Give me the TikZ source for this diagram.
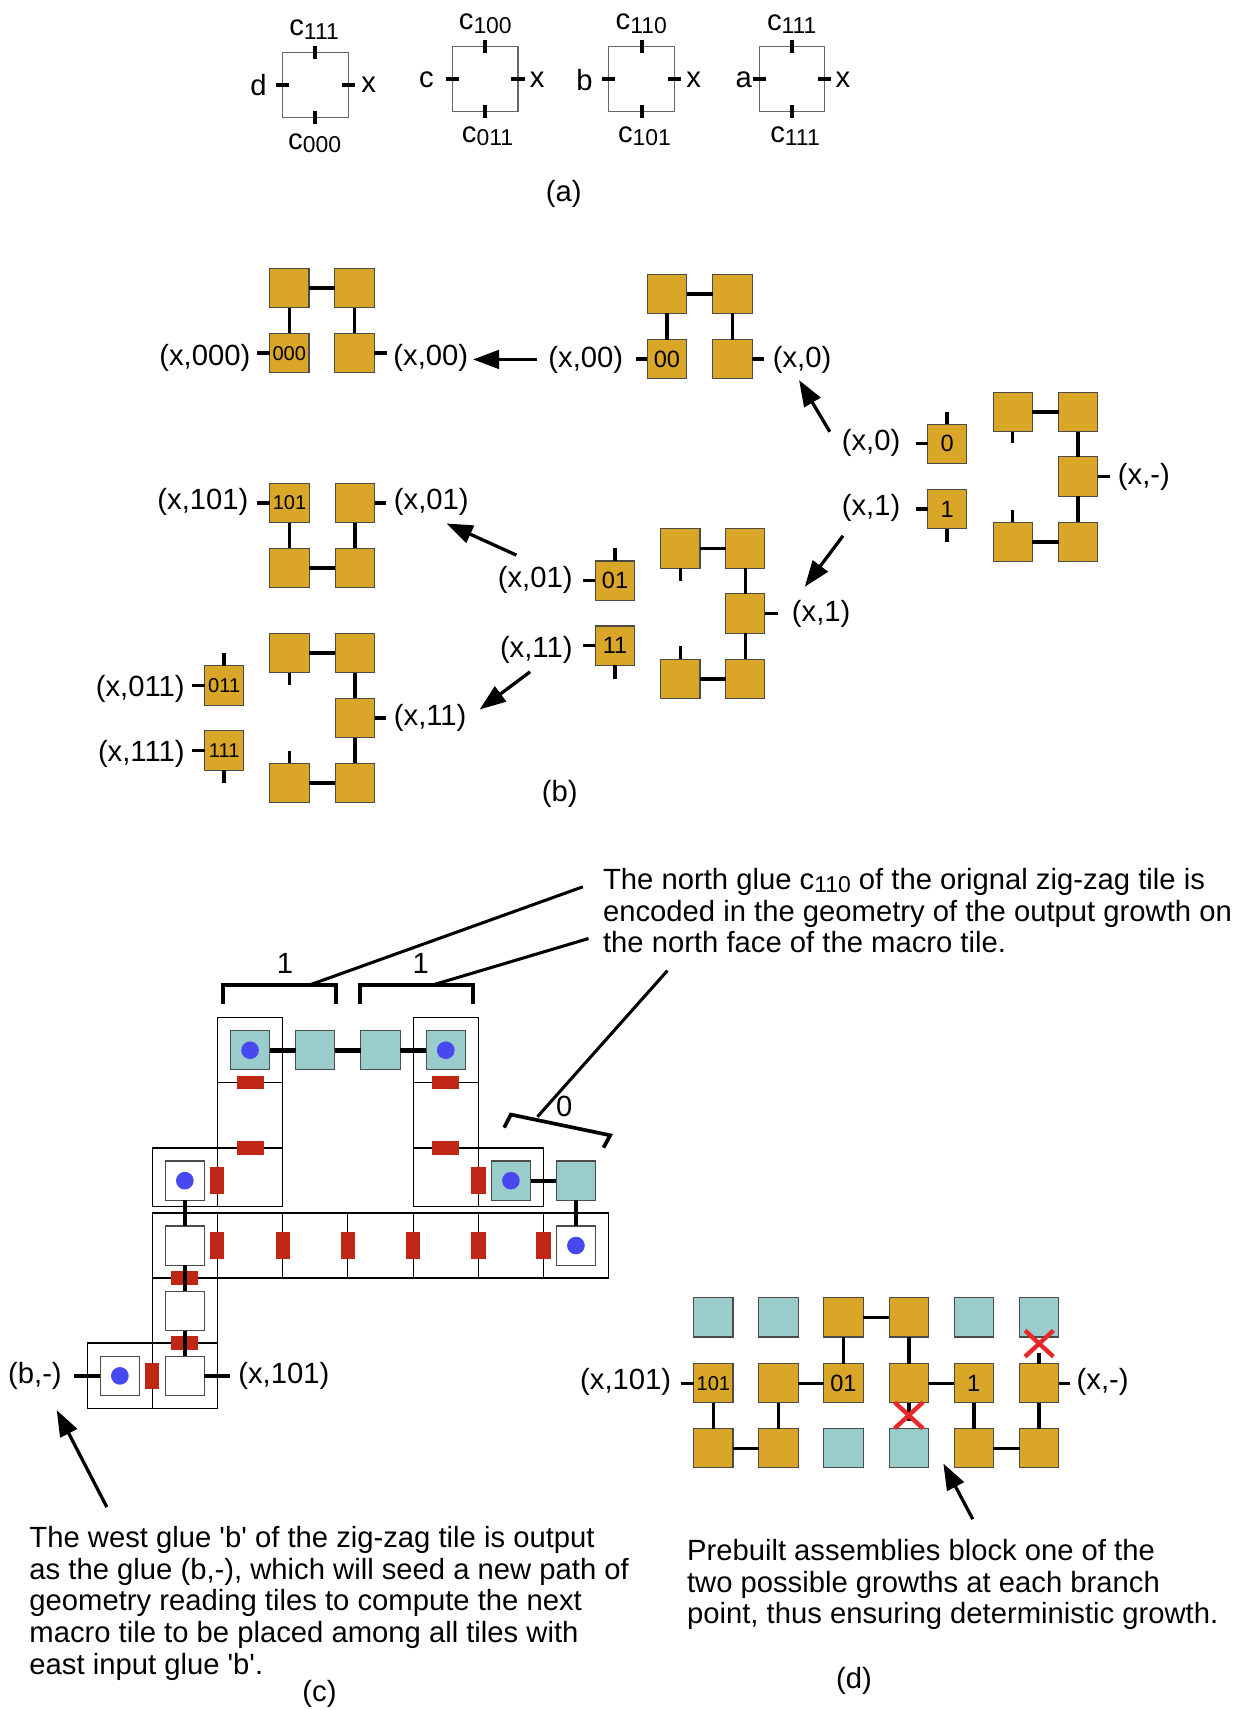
\documentclass[tikz,border=0pt]{standalone}
\usepackage{fontspec}
\setmainfont{Liberation Sans}
\usetikzlibrary{arrows.meta,calc}
\definecolor{goldc}{RGB}{218,166,40}
\definecolor{tealc}{RGB}{155,204,204}
\definecolor{redc}{RGB}{192,38,22}
\definecolor{bluec}{RGB}{72,72,240}
\definecolor{xred}{RGB}{232,40,40}
\definecolor{edgec}{RGB}{75,75,75}
\newcommand{\cs}[1]{c\raisebox{-1.6pt}{\fontsize{10.5}{11}\selectfont #1}}
\begin{document}
\begin{tikzpicture}[x=0.5pt,y=-0.5pt,
 lbl/.style={font=\fontsize{13.4}{15}\selectfont, inner sep=0pt, outer sep=0pt},
 goldt/.style={draw=edgec, line width=0.5pt, fill=goldc, minimum size=18pt, inner sep=0pt, outer sep=0pt, font=\fontsize{10.8}{11}\selectfont},
 goldsm/.style={goldt, font=\fontsize{9.2}{10}\selectfont},
 tealt/.style={goldt, fill=tealc},
 wtile/.style={draw=edgec, line width=0.6pt, fill=white, minimum size=18pt, inner sep=0pt, outer sep=0pt},
 ztile/.style={draw=black!60, line width=0.5pt, minimum width=30pt, minimum height=30pt, inner sep=0pt, outer sep=0pt},
 tickln/.style={line width=1.8pt},
 conn/.style={line width=1.6pt},
 cconn/.style={line width=1.8pt},
 cconnt/.style={line width=2.2pt},
 cellln/.style={line width=0.55pt},
 bracket/.style={line width=1.7pt},
 leader/.style={line width=1.4pt},
 arr/.style={line width=1.5pt, -{Triangle[length=12pt,width=8.5pt]}},
 xmark/.style={draw=xred, line width=2pt},
 hbar/.pic={\fill[redc] (-12.4,-6.1) rectangle (12.4,6.1);},
 vbar/.pic={\fill[redc] (-6.5,-12.2) rectangle (6.5,12.2);},
]
\useasboundingbox (0,0) rectangle (1141,1568);

% ---------------- panel (a)
\node[ztile] (za) at (289.2,78) {};
\node[ztile] (zb) at (445,72.3) {};
\node[ztile] (zc) at (588.3,72.3) {};
\node[ztile] (zd) at (726.1,72.3) {};
\foreach \t in {za,zb,zc,zd}{
 \draw[tickln] (\t.north) ++(0,-6) -- ++(0,12);
 \draw[tickln] (\t.south) ++(0,-6) -- ++(0,12);
 \draw[tickln] (\t.west) ++(-6,0) -- ++(12,0);
 \draw[tickln] (\t.east) ++(-6,0) -- ++(12,0);
}
\node[lbl] (zan) at (288,27) {\cs{111}};
\node[lbl] (zas) at (288.5,131.5) {\cs{000}};
\node[lbl] (zaw) at (237,78) {d};
\node[lbl] (zae) at (338,78) {x};
\node[lbl] (zbn) at (445,22) {\cs{100}};
\node[lbl] (zbs) at (447,125) {\cs{011}};
\node[lbl] (zbw) at (391,73) {c};
\node[lbl] (zbe) at (492.5,73) {x};
\node[lbl] (zcn) at (588,22) {\cs{110}};
\node[lbl] (zcs) at (591,125) {\cs{101}};
\node[lbl] (zcw) at (536,73) {b};
\node[lbl] (zce) at (636,73) {x};
\node[lbl] (zdn) at (726,22) {\cs{111}};
\node[lbl] (zds) at (729,125) {\cs{111}};
\node[lbl] (zdw) at (682,73) {a};
\node[lbl] (zde) at (773,73) {x};
\node[lbl] (capa) at (517,178) {(a)};

% ---------------- panel (b)
% top-left group
\node[goldt] (A1) at (265.3,264) {};
\node[goldt] (A2) at (325.1,264) {};
\node[goldsm] (A3) at (265.3,323.8) {000};
\node[goldt] (A4) at (325.1,323.8) {};
\draw[conn] (A1) -- (A2); \draw[conn] (A1) -- (A3); \draw[conn] (A2) -- (A4);
\draw[conn] (A3.west) -- ++(-11.5,0);
\draw[conn] (A4.east) -- ++(12,0);
\node[lbl,anchor=east] (lA3) at (229.5,328) {(x,000)};
\node[lbl,anchor=west] (lA4) at (360.8,328) {(x,00)};
% middle-top group
\node[goldt] (B1) at (611.6,269.4) {};
\node[goldt] (B2) at (671.6,269.4) {};
\node[goldt] (B3) at (611.6,329.4) {00};
\node[goldt] (B4) at (671.6,329.4) {};
\draw[conn] (B1) -- (B2); \draw[conn] (B1) -- (B3); \draw[conn] (B2) -- (B4);
\draw[conn] (B3.west) -- ++(-10.5,0);
\draw[conn] (B4.east) -- ++(11.4,0);
\node[lbl,anchor=east] (lB3) at (571.4,330) {(x,00)};
\node[lbl,anchor=west] (lB4) at (708.7,330) {(x,0)};
\coordinate (ar1s) at (492.7,329.6); \coordinate (ar1e) at (433.7,329.6);
\draw[arr] (ar1s) -- (ar1e);
% right group
\node[goldt] (C0) at (868.5,406.9) {0};
\node[goldt] (C1) at (868.5,466.7) {1};
\draw[conn] (C0.north) -- ++(0,-11.3);
\draw[conn] (C1.south) -- ++(0,12.2);
\draw[conn] (C0.west) -- ++(-10.7,0);
\draw[conn] (C1.west) -- ++(-10.7,0);
\node[lbl,anchor=east] (lC0) at (825.5,406.6) {(x,0)};
\node[lbl,anchor=east] (lC1) at (825.5,466.2) {(x,1)};
\node[goldt] (R1) at (928.6,377.8) {};
\node[goldt] (R2) at (988.6,377.8) {};
\node[goldt] (R3) at (988.6,436.9) {};
\node[goldt] (R4) at (928.6,497.1) {};
\node[goldt] (R5) at (988.6,497.1) {};
\draw[conn] (R1) -- (R2); \draw[conn] (R2) -- (R3); \draw[conn] (R3) -- (R5); \draw[conn] (R4) -- (R5);
\draw[conn] (R1.south) -- ++(0,10.7);
\draw[conn] (R4.north) -- ++(0,-11.3);
\draw[conn] (R3.east) -- ++(11.2,0);
\node[lbl,anchor=west] (lR3) at (1025.1,437.2) {(x,-)};
\coordinate (ar2s) at (760.9,395.9); \coordinate (ar2e) at (732.7,348.5);
\draw[arr] (ar2s) -- (ar2e);
\coordinate (ar3s) at (773,491.3); \coordinate (ar3e) at (737.9,538.1);
\draw[arr] (ar3s) -- (ar3e);
% middle-lower group
\node[goldt] (D0) at (564,532.4) {01};
\node[goldt] (D1) at (564,592) {11};
\draw[conn] (D0.north) -- ++(0,-11.6);
\draw[conn] (D1.south) -- ++(0,12.2);
\draw[conn] (D0.west) -- ++(-11.7,0);
\draw[conn] (D1.west) -- ++(-11.7,0);
\node[lbl,anchor=east] (lD0) at (525,532) {(x,01)};
\node[lbl,anchor=east] (lD1) at (525,596) {(x,11)};
\node[goldt] (M1) at (623.9,503) {};
\node[goldt] (M2) at (683.4,503) {};
\node[goldt] (M3) at (683.4,562.6) {};
\node[goldt] (M4) at (623.9,622.5) {};
\node[goldt] (M5) at (683.4,622.5) {};
\draw[conn] (M1) -- (M2); \draw[conn] (M2) -- (M3); \draw[conn] (M3) -- (M5); \draw[conn] (M4) -- (M5);
\draw[conn] (M1.south) -- ++(0,11.3);
\draw[conn] (M4.north) -- ++(0,-11.9);
\draw[conn] (M3.east) -- ++(11.6,0);
\node[lbl,anchor=west] (lM3) at (726.2,562.5) {(x,1)};
\coordinate (ar4s) at (473.5,509); \coordinate (ar4e) at (409.4,480);
\draw[arr] (ar4s) -- (ar4e);
\coordinate (ar5s) at (486.1,616); \coordinate (ar5e) at (439.8,650.6);
\draw[arr] (ar5s) -- (ar5e);
% left-middle group
\node[goldsm] (L1) at (265.5,461.2) {101};
\node[goldt] (L2) at (325.4,461.2) {};
\node[goldt] (L3) at (265.5,520.8) {};
\node[goldt] (L4) at (325.4,520.8) {};
\draw[conn] (L1) -- (L3); \draw[conn] (L2) -- (L4); \draw[conn] (L3) -- (L4);
\draw[conn] (L1.west) -- ++(-11.8,0);
\draw[conn] (L2.east) -- ++(10.7,0);
\node[lbl,anchor=east] (lL1) at (227.8,460.7) {(x,101)};
\node[lbl,anchor=west] (lL2) at (361.2,460.7) {(x,01)};
% lower-left group
\node[goldsm] (E0) at (205.6,628.6) {011};
\node[goldsm] (E1) at (205.6,688.2) {111};
\draw[conn] (E0.north) -- ++(0,-11.9);
\draw[conn] (E1.south) -- ++(0,12.2);
\draw[conn] (E0.west) -- ++(-11.7,0);
\draw[conn] (E1.west) -- ++(-11.7,0);
\node[lbl,anchor=east] (lE0) at (169.3,632) {(x,011)};
\node[lbl,anchor=east] (lE1) at (169.3,691) {(x,111)};
\node[goldt] (K1) at (265.5,598.8) {};
\node[goldt] (K2) at (325.4,598.8) {};
\node[goldt] (K3) at (325.4,658.4) {};
\node[goldt] (K4) at (265.5,718) {};
\node[goldt] (K5) at (325.4,718) {};
\draw[conn] (K1) -- (K2); \draw[conn] (K2) -- (K3); \draw[conn] (K3) -- (K5); \draw[conn] (K4) -- (K5);
\draw[conn] (K1.south) -- ++(0,11.6);
\draw[conn] (K4.north) -- ++(0,-11.6);
\draw[conn] (K3.east) -- ++(10.7,0);
\node[lbl,anchor=west] (lK3) at (361.2,657.9) {(x,11)};
\node[lbl] (capb) at (513.3,728) {(b)};

% ---------------- panel (c)
\draw[cellln] (199.3,933.1) rectangle (259.3,1106.4);
\draw[cellln] (199.3,992.7) -- (259.3,992.7);
\draw[cellln] (199.3,1052.6) -- (259.3,1052.6);
\draw[cellln] (139.7,1052.6) rectangle (259.3,1106.4);
\draw[cellln] (378.8,933.1) rectangle (438.7,1106.4);
\draw[cellln] (378.8,992.7) -- (438.7,992.7);
\draw[cellln] (378.8,1052.6) -- (438.7,1052.6);
\draw[cellln] (378.8,1052.6) rectangle (498.3,1106.4);
\draw[cellln] (139.7,1112.3) rectangle (557.9,1171.9);
\foreach \x in {199.3,259.3,318.9,378.8,438.7,498.3} \draw[cellln] (\x,1112.3) -- (\x,1171.9);
\draw[cellln] (139.7,1171.9) rectangle (199.3,1291.7);
\draw[cellln] (139.7,1231.5) -- (199.3,1231.5);
\draw[cellln] (80.1,1231.5) rectangle (199.3,1291.7);
% red bars
\pic at (229.3,992.7) {hbar}; \pic at (229.3,1052.6) {hbar};
\pic at (408.75,992.7) {hbar}; \pic at (408.75,1052.6) {hbar};
\pic at (169.5,1171.9) {hbar}; \pic at (169.5,1231.5) {hbar};
\pic at (199.3,1082.6) {vbar}; \pic at (438.7,1082.6) {vbar};
\foreach \x in {199.3,259.3,318.9,378.8,438.7,498.3} \pic at (\x,1142.1) {vbar};
\pic at (139.7,1261.6) {vbar};
% tiles
\node[tealt] (tA) at (229.3,963) {};
\node[tealt] (tB) at (289.1,963) {};
\node[tealt] (tC) at (348.9,963) {};
\node[tealt] (tD) at (408.75,963) {};
\node[wtile] (tE) at (169.5,1082.6) {};
\node[tealt] (tF) at (468.5,1082.6) {};
\node[tealt] (tG) at (528.1,1082.6) {};
\node[wtile] (tH) at (169.5,1142.1) {};
\node[wtile] (tI) at (528.1,1142.1) {};
\node[wtile] (tJ) at (169.5,1202) {};
\node[wtile] (tK) at (169.5,1261.6) {};
\node[wtile] (tL) at (109.9,1261.6) {};
\foreach \t in {tA,tD,tE,tF,tI,tL} \fill[bluec] (\t) circle[radius=4.05pt];
\draw[cconnt] (tA) -- (tB); \draw[cconnt] (tB) -- (tC); \draw[cconnt] (tC) -- (tD);
\draw[cconn] (tF) -- (tG); \draw[cconn] (tG) -- (tI);
\draw[cconn] (tE) -- (tH); \draw[cconn] (tH) -- (tJ); \draw[cconn] (tJ) -- (tK);
\draw[cconn] (tL.west) -- ++(-23.8,0);
\draw[cconn] (tK.east) -- ++(23.3,0);
\node[lbl,anchor=east] (lbm) at (56.6,1262) {(b,-)};
\node[lbl,anchor=west] (lxc) at (218.6,1262) {(x,101)};
% brackets
\draw[bracket] (204.8,920.8) -- (204.8,903.4) -- (308.2,903.4) -- (308.2,920.8);
\draw[bracket] (330.2,920.8) -- (330.2,903.4) -- (433.5,903.4) -- (433.5,920.8);
\draw[bracket] (462.3,1034) -- (468.4,1022) -- (559.5,1041) -- (553.4,1052.3);
\node[lbl] (one1) at (261.4,883.5) {1};
\node[lbl] (one2) at (385.8,883.5) {1};
\node[lbl] (zero) at (517.3,1014.4) {0};
\coordinate (q1a) at (284.3,903); \coordinate (q1b) at (534.4,813.2);
\coordinate (q2a) at (397.4,903); \coordinate (q2b) at (539.6,860.6);
\coordinate (q3a) at (612,890); \coordinate (q3b) at (492.8,1024);
\draw[leader] (q1a) -- (q1b);
\draw[leader] (q2a) -- (q2b);
\draw[leader] (q3a) -- (q3b);
\node[lbl,anchor=base west] (nt1) at (553,815.6) {The north glue \cs{110} of the orignal zig-zag tile is};
\node[lbl,anchor=base west] (nt2) at (553,844.6) {encoded in the geometry of the output growth on};
\node[lbl,anchor=base west] (nt3) at (553,873.6) {the north face of the macro tile.};
\coordinate (ar6s) at (98,1382); \coordinate (ar6e) at (52,1293);
\draw[arr] (ar6s) -- (ar6e);
\node[lbl,anchor=base west] (wt1) at (27,1419) {The west glue \textquotesingle b\textquotesingle\ of the zig-zag tile is output};
\node[lbl,anchor=base west] (wt2) at (27,1448) {as the glue (b,-), which will seed a new path of};
\node[lbl,anchor=base west] (wt3) at (27,1477) {geometry reading tiles to compute the next};
\node[lbl,anchor=base west] (wt4) at (27,1506) {macro tile to be placed among all tiles with};
\node[lbl,anchor=base west] (wt5) at (27,1535) {east input glue \textquotesingle b\textquotesingle.};
\node[lbl] (capc) at (293,1553) {(c)};

% ---------------- panel (d)
\node[tealt] (d00) at (654.1,1208) {};
\node[tealt] (d01) at (713.8,1208) {};
\node[goldt] (d02) at (773.4,1208) {};
\node[goldt] (d03) at (833.3,1208) {};
\node[tealt] (d04) at (892.9,1208) {};
\node[tealt] (d05) at (952.9,1208) {};
\node[goldsm] (d10) at (654.1,1268.4) {101};
\node[goldt] (d11) at (713.8,1268.4) {};
\node[goldt] (d12) at (773.4,1268.4) {01};
\node[goldt] (d13) at (833.3,1268.4) {};
\node[goldt] (d14) at (892.9,1268.4) {1};
\node[goldt] (d15) at (952.9,1268.4) {};
\node[goldt] (d20) at (654.1,1328) {};
\node[goldt] (d21) at (713.8,1328) {};
\node[tealt] (d22) at (773.4,1328) {};
\node[tealt] (d23) at (833.3,1328) {};
\node[goldt] (d24) at (892.9,1328) {};
\node[goldt] (d25) at (952.9,1328) {};
\draw[conn] (d10) -- (d20); \draw[conn] (d20) -- (d21); \draw[conn] (d21) -- (d11);
\draw[conn] (d11) -- (d12); \draw[conn] (d12) -- (d02); \draw[conn] (d02) -- (d03);
\draw[conn] (d03) -- (d13); \draw[conn] (d13) -- (d14); \draw[conn] (d14) -- (d24);
\draw[conn] (d24) -- (d25); \draw[conn] (d25) -- (d15);
\draw[conn] (d13.south) -- ++(0,17);
\draw[conn] (d15.north) -- ++(0,-10);
\coordinate (xa) at (952.9,1232); \coordinate (xb) at (833.3,1297.8);
\foreach \c in {xa,xb}{
 \draw[xmark] (\c) ++(-13,-12) -- ++(26,24);
 \draw[xmark] (\c) ++(-13,12) -- ++(26,-24);
}
\draw[conn] (d10.west) -- ++(-11.5,0);
\draw[conn] (d15.east) -- ++(10.5,0);
\node[lbl,anchor=east] (ld10) at (615.4,1267) {(x,101)};
\node[lbl,anchor=west] (ld15) at (987.3,1267) {(x,-)};
\coordinate (ar7s) at (892,1393); \coordinate (ar7e) at (865,1342);
\draw[arr] (ar7s) -- (ar7e);
\node[lbl,anchor=base west] (pt1) at (630,1431) {Prebuilt assemblies block one of the};
\node[lbl,anchor=base west] (pt2) at (630,1460) {two possible growths at each branch};
\node[lbl,anchor=base west] (pt3) at (630,1489) {point, thus ensuring deterministic growth.};
\node[lbl] (capd) at (783,1541) {(d)};
\end{tikzpicture}
\end{document}
